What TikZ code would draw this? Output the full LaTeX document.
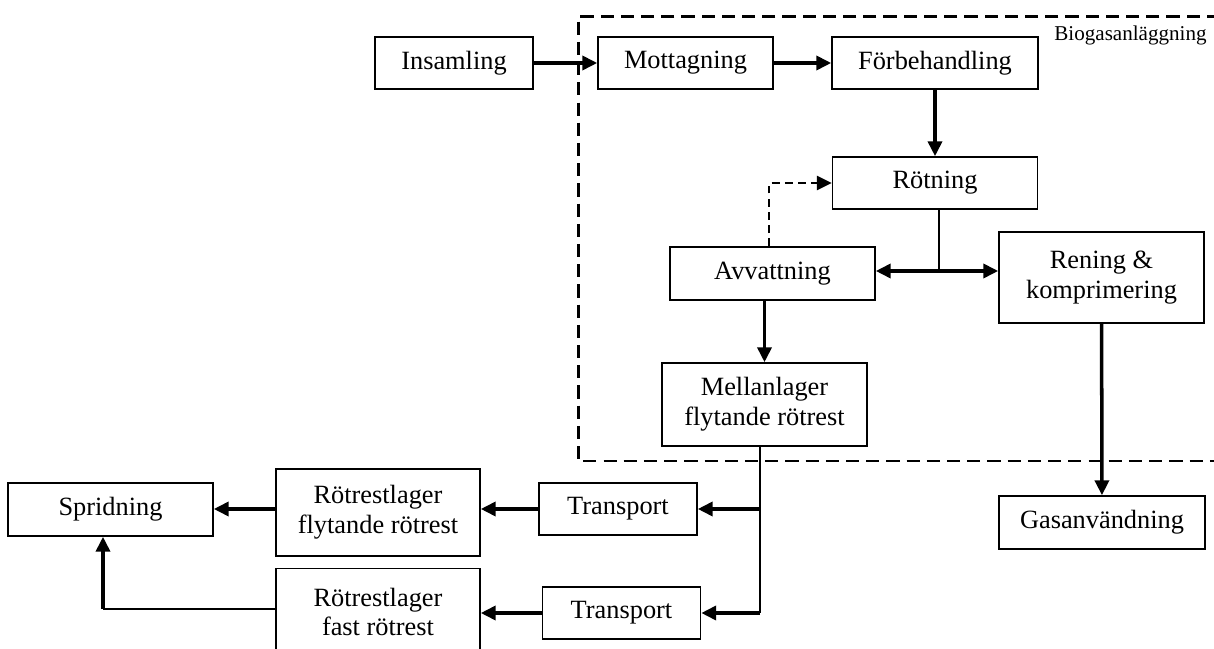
\documentclass[tikz,border=0pt]{standalone}
\usepackage{fontspec}
\setmainfont{Liberation Serif}
\usetikzlibrary{arrows.meta,positioning,calc}

\begin{document}
\begin{tikzpicture}[>={Triangle[length=8.5pt,width=8pt]},
	box/.style={draw,line width=0.9pt,inner sep=0pt,align=center,
		font=\fontsize{15}{17}\selectfont,minimum height=1.04cm},
	flow/.style={->,line width=2pt},
	link/.style={line width=0.9pt},
	loopback/.style={->,line width=1.5pt,dash pattern=on 4.5pt off 3pt},
	plant/.style={line width=1.7pt,dash pattern=on 7.5pt off 4pt}
	]
	\useasboundingbox (0,0) rectangle (24.28,12.96);

	% biogasanlaggningen
	\draw[plant] (24.4,12.62) -- (11.56,12.62) -- (11.56,3.74) -- (24.4,3.74);
	\node[anchor=base east,inner sep=0pt,font=\fontsize{12}{14}\selectfont] (plantlbl) at (24.14,12.14) {Biogasanläggning};

	\node[box,minimum width=3.16cm] (ins) at (9.08,11.7) {Insamling};
	\node[box,minimum width=3.5cm] (mot) at (13.71,11.7) {Mottagning};
	\node[box,minimum width=4.12cm] (forb) at (18.7,11.7) {Förbehandling};
	\node[box,minimum width=4.1cm] (rot) at (18.7,9.3) {Rötning};
	\node[box,minimum width=4.1cm,minimum height=1.06cm] (avv) at (15.45,7.49) {Avvattning};
	\node[box,minimum width=4.1cm,minimum height=1.82cm] (ren) at (22.03,7.41) {Rening \&\\komprimering};
	\node[box,minimum width=4.1cm,minimum height=1.66cm] (mell) at (15.29,4.87) {Mellanlager\\flytande rötrest};
	\node[box,minimum width=4.12cm,minimum height=1.06cm] (gas) at (22.04,2.51) {Gasanvändning};

	% utanfor anlaggningen
	\node[box,minimum width=3.16cm] (tr1) at (12.36,2.78) {Transport};
	\node[box,minimum width=3.16cm] (tr2) at (12.43,0.7) {Transport};
	\node[box,minimum width=4.08cm,minimum height=1.74cm] (lag1) at (7.56,2.71) {Rötrestlager\\flytande rötrest};
	\node[box,minimum width=4.08cm,minimum height=1.74cm] (lag2) at (7.56,0.72) {Rötrestlager\\fast rötrest};
	\node[box,minimum width=4.1cm,minimum height=1.06cm] (spr) at (2.21,2.77) {Spridning};

	\coordinate (split) at (18.78,7.54);
	\coordinate (tap) at (15.2,0.7);
	\coordinate (turn) at (2.06,0.78);

	\draw[flow] (ins) -- (mot);
	\draw[flow] (mot) -- (forb);
	\draw[flow] (forb) -- (rot);
	\draw[link] (rot.south -| split) -- (split);
	\draw[flow,<->] (split -| avv.east) -- (split -| ren.west);
	\draw[loopback] ([xshift=-0.07cm]avv.north) |- (rot.west);
	\draw[flow] (mell.north |- avv.south) -- (mell.north);
	\draw[flow] (ren) -- (gas);

	\draw[link] (mell.south -| tap) -- (tap);
	\draw[flow] (tap |- tr1) -- (tr1.east);
	\draw[flow] (tap) -- (tr2.east);
	\draw[flow] (tr1.west) -- (tr1.west -| lag1.east);
	\draw[flow] (tr1.west -| lag1.west) -- (tr1.west -| spr.east);
	\draw[flow] (tr2.west) -- (tr2.west -| lag2.east);
	\draw[link] (lag2.west |- turn) -- (turn);
	\draw[flow] (turn) -- (turn |- spr.south);

\end{tikzpicture}
\end{document}
